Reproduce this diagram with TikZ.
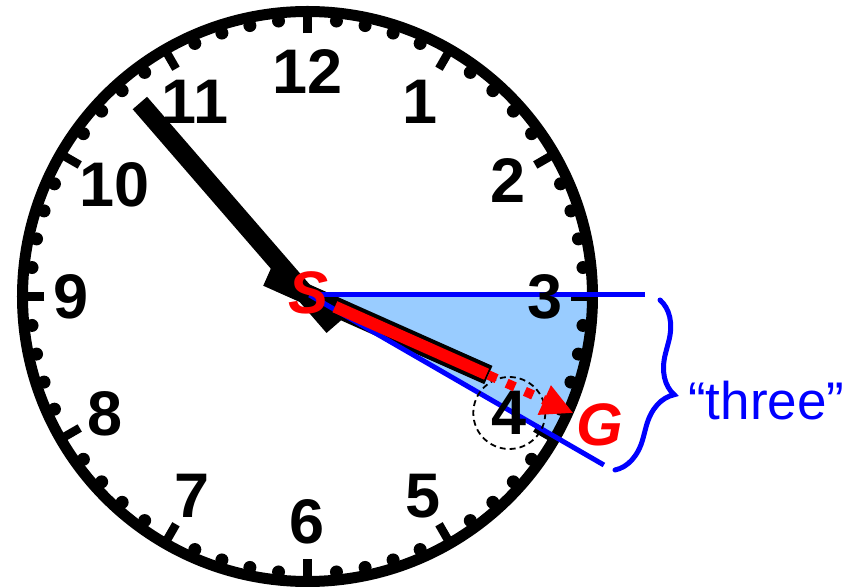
\documentclass[tikz,border=0pt]{standalone}
\usepackage{fontspec}
\usetikzlibrary{arrows.meta,decorations.pathreplacing}
\newfontfamily\clockfont{Liberation Sans}
\definecolor{wedgeblue}{RGB}{153,204,255}
\tikzset{
  hourtick/.style={line width=8.5pt},
  numeral/.style={font=\clockfont\bfseries\fontsize{63}{63}\selectfont, inner sep=0pt},
  marker/.style={text=red, font=\clockfont\bfseries\itshape\fontsize{60}{60}\selectfont, inner sep=3pt},
  guide/.style={blue, line width=5pt},
}
\begin{document}
\begin{tikzpicture}[x=1pt,y=1pt]
  \useasboundingbox (-307.5,-291.5) rectangle (547.5,296.5);
  \coordinate (O) at (0,0);
  \coordinate (apex) at (2,1.5);
  \coordinate (edge3) at (337.5,1.5);
  \coordinate (edge4) at (296.4,-168.5);
  \coordinate (bracetop) at (352.5,-3.5);
  \coordinate (bracebot) at (307.5,-173.5);
  \fill[wedgeblue] (apex) -- (0:283) arc[start angle=0, end angle=-30, radius=283] -- cycle;
  \draw[line width=11pt] (O) circle (285);
  \foreach \a in {0,30,...,330}
    \draw[hourtick] (\a:263) -- (\a:288);
  \foreach \h in {0,...,11}
    \foreach \k in {1,...,4}
      \fill ({\h*30+\k*6}:277) circle (6.5);
  \draw[line width=19pt] (-49.1:40) -- (130.9:256);
  \begin{scope}[shift={(0,2)}]
    \draw[line width=20pt] (156:44) -- (-24:198);
    \coordinate (htip) at (-24:198);
  \end{scope}
  \draw[guide] (apex) -- (edge3);
  \draw[guide] (apex) -- (edge4);
  \foreach \n/\r in {12/225,1/225,2/231,3/238,4/233,5/231,6/225,7/230,8/234,9/236,10/223,11/225}
    \node[numeral] (n\n) at ({90-30*\n}:\r) {\n};
  \begin{scope}[shift={(0,2)}]
    \draw[red, line width=12pt] (-24:30) -- (-24:196);
  \end{scope}
  \draw[dash pattern=on 6pt off 4pt, line width=1.8pt] (n4.center) circle (36);
  \node[marker] (S) at (1.5,3.5) {S};
  \node[marker] (G) at (292.5,-128.5) {G};
  \draw[red, line width=9.5pt, dash pattern=on 9pt off 11pt, -{Triangle[length=32pt,width=30pt]}] (htip) -- (G);
  \draw[guide, line cap=round, decorate, decoration={brace, amplitude=38pt}] (bracetop) -- (bracebot);
  \node[blue, anchor=base west, inner sep=0pt, font=\clockfont\fontsize{53}{53}\selectfont] (three) at (380.5,-123.5) {“three”};
\end{tikzpicture}
\end{document}
